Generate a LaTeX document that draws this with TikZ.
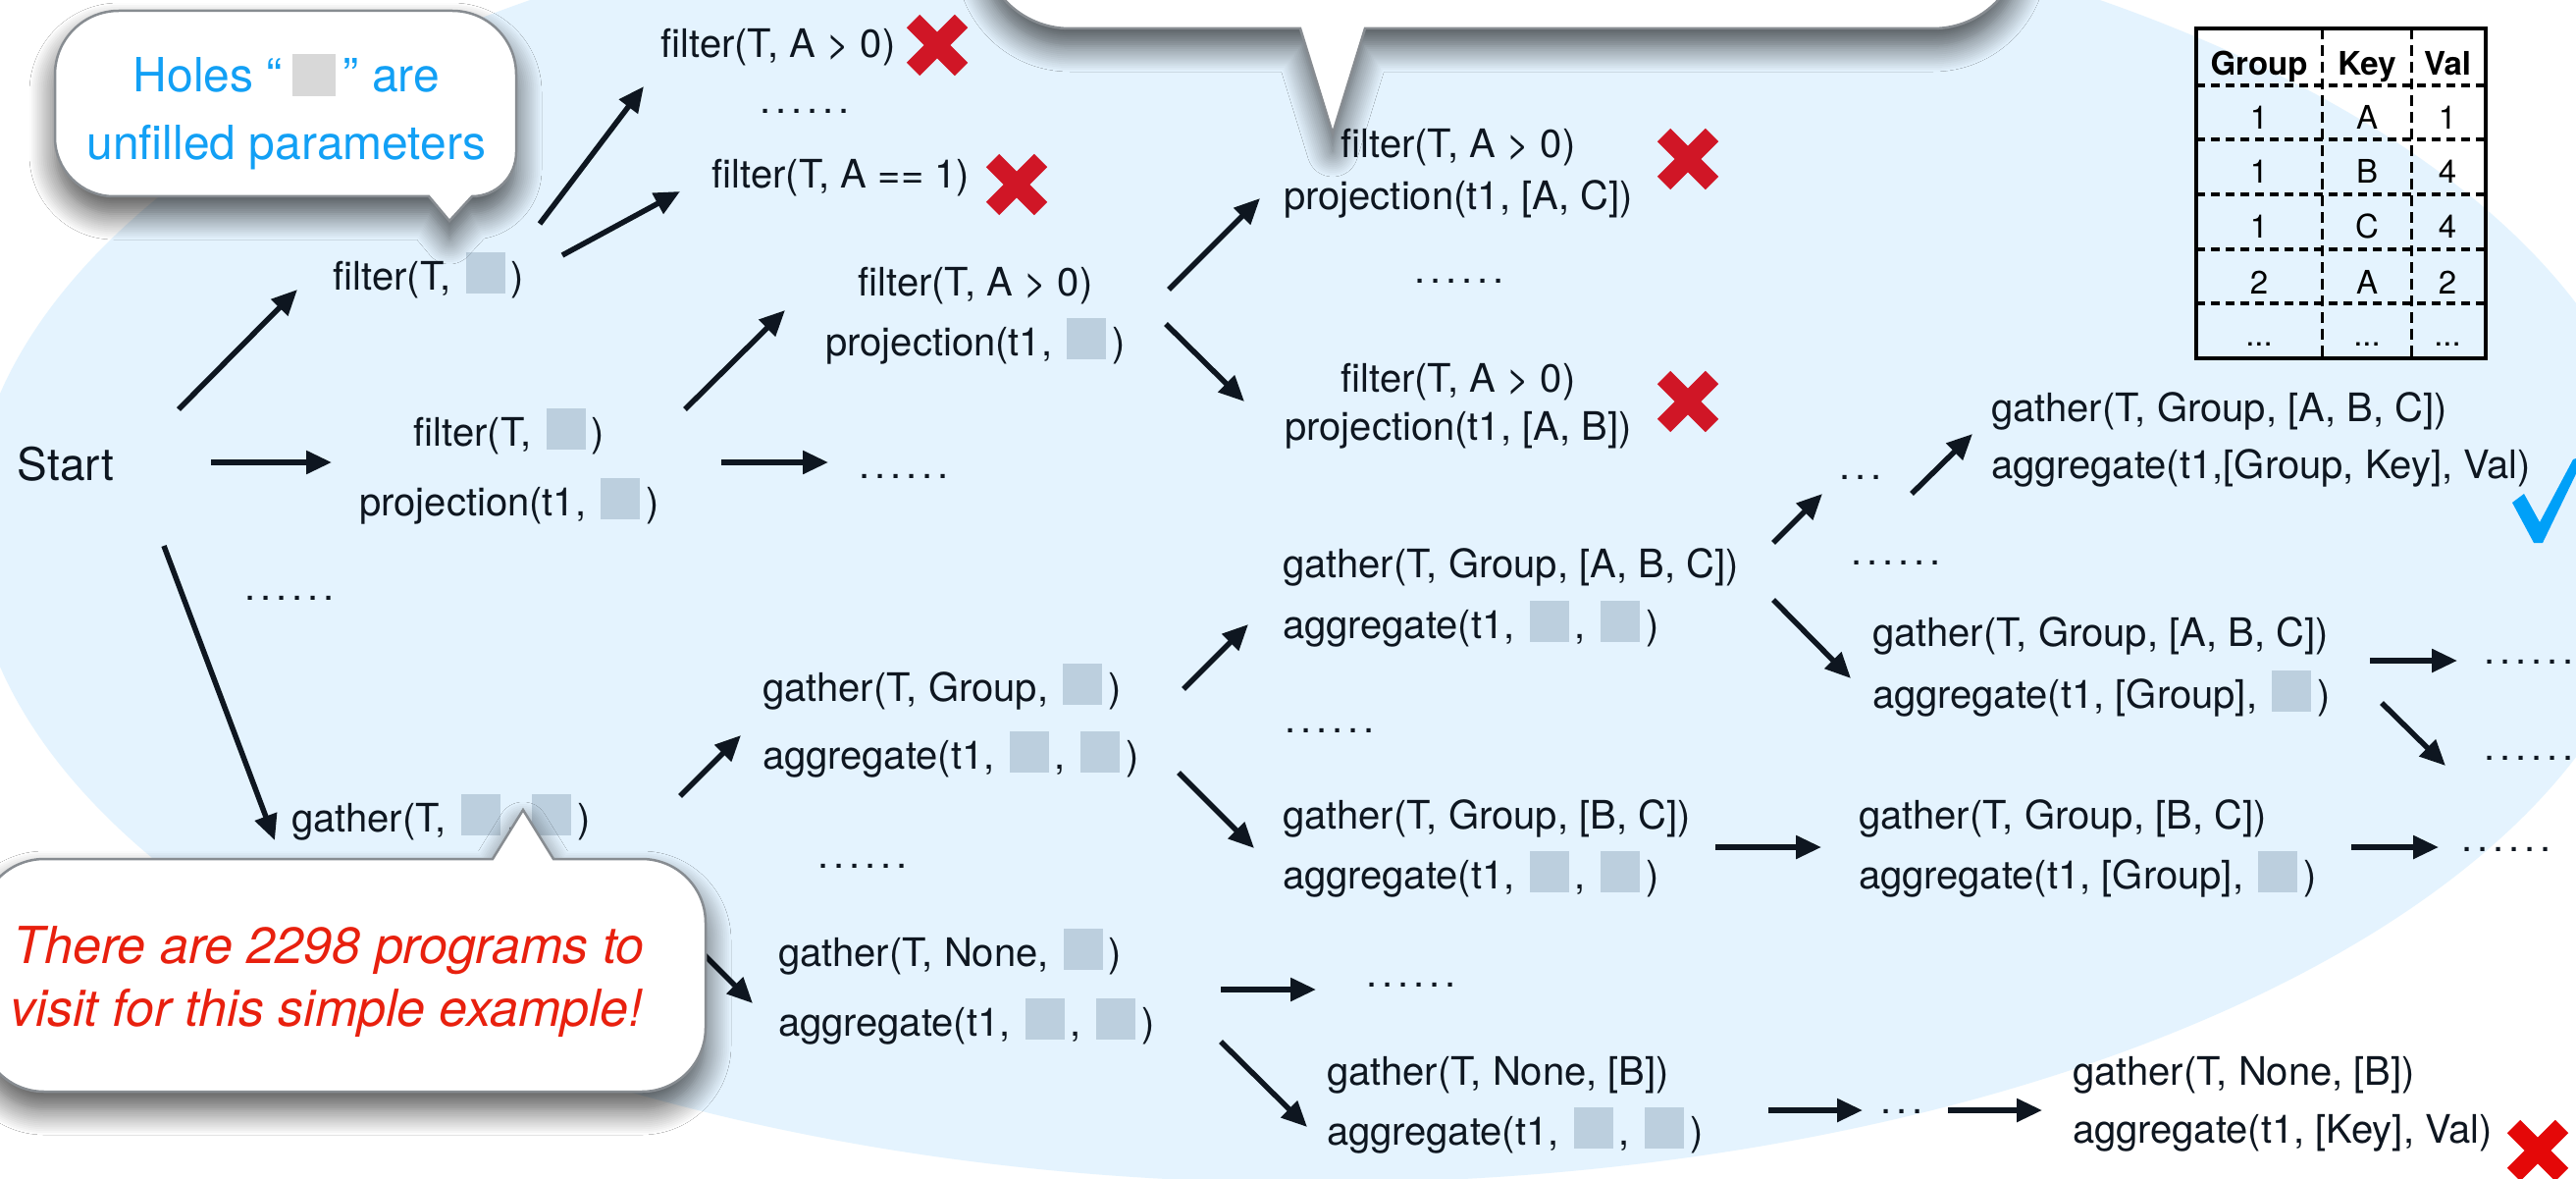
\documentclass[tikz,border=0pt]{standalone}
\usepackage{fontspec}
\setmainfont{TeX Gyre Heros}
\usetikzlibrary{arrows.meta,shadows.blur}

\definecolor{bgblue}{RGB}{228,243,254}
\definecolor{ink}{RGB}{14,22,32}
\definecolor{holec}{RGB}{188,207,222}
\definecolor{holegray}{RGB}{216,216,216}
\definecolor{tipblue}{RGB}{18,160,245}
\definecolor{warnred}{RGB}{232,32,14}
\definecolor{xred}{RGB}{208,22,38}
\definecolor{xredb}{RGB}{228,8,8}
\definecolor{okblue}{RGB}{0,160,248}
\definecolor{rimgray}{RGB}{135,140,145}

% an unfilled parameter slot
\newcommand\hole{\kern4pt\textcolor{holec}{\rule[-4pt]{40pt}{42pt}}\kern6pt}
\newcommand\sixdots{.\kern5pt.\kern5pt.\kern5pt.\kern5pt.\kern5pt.}
\newcommand\threedots{.\kern5pt.\kern5pt.}

\tikzset{
  prog/.style={inner sep=0pt, outer sep=0pt, text=ink, font=\fontsize{40}{48}\selectfont},
  lprog/.style={prog, anchor=base west},
  cprog/.style={prog, anchor=base},
  cell/.style={inner sep=0pt, anchor=base, text=black, font=\fontsize{33}{40}\selectfont},
  arr/.style={draw=ink, line width=5.5pt, -{Triangle[length=26pt,width=23pt]}},
  bubble/.style={fill=white, draw=rimgray, line width=2.5pt,
    blur shadow={shadow xshift=0pt, shadow yshift=-18pt, shadow blur radius=26pt,
                 shadow opacity=70, shadow blur steps=14}},
  redx/.pic={
    \draw[line width=19pt, line cap=butt, pic actions] (-24.5,-24.5) -- (24.5,24.5) (24.5,-24.5) -- (-24.5,24.5);
  }
}

\begin{document}
\begin{tikzpicture}[x=1pt,y=-1pt]
\useasboundingbox (0,0) rectangle (2625,1201);
\clip (0,0) rectangle (2625,1201);
\fill[white] (0,0) rectangle (2625,1201);

% search space
\fill[bgblue] (1340,540) ellipse [x radius=1370, y radius=665];

% example table
\draw[line width=3.5pt] (2238,29) rectangle (2533,365);
\foreach \yy in {87,142,198,254,309}
  \draw[line width=4pt, dash pattern=on 9pt off 6pt] (2238,\yy) -- (2533,\yy);
\foreach \xx in {2366,2457}
  \draw[line width=3pt, dash pattern=on 11pt off 6pt] (\xx,29) -- (\xx,365);
\node[cell, font=\fontsize{33}{40}\selectfont\bfseries] (hg) at (2302,77) {Group};
\node[cell, font=\fontsize{33}{40}\selectfont\bfseries] (hk) at (2412,77) {Key};
\node[cell, font=\fontsize{33}{40}\selectfont\bfseries] (hv) at (2494,77) {Val};
\node[cell] (r1a) at (2302,132) {1}; \node[cell] (r1b) at (2412,132) {A}; \node[cell] (r1c) at (2494,132) {1};
\node[cell] (r2a) at (2302,186) {1}; \node[cell] (r2b) at (2412,186) {B}; \node[cell] (r2c) at (2494,186) {4};
\node[cell] (r3a) at (2302,242) {1}; \node[cell] (r3b) at (2412,242) {C}; \node[cell] (r3c) at (2494,242) {4};
\node[cell] (r4a) at (2302,299) {2}; \node[cell] (r4b) at (2412,299) {A}; \node[cell] (r4c) at (2494,299) {2};
\node[cell] (r5a) at (2302,352) {...}; \node[cell] (r5b) at (2412,352) {...}; \node[cell] (r5c) at (2494,352) {...};

% programs
\node[prog, anchor=base, font=\fontsize{46}{54}\selectfont] (start) at (67,489) {Start};
\node[cprog] (f1)  at (437,295) {filter(T, \hole)};
\node[cprog] (f1a) at (793,59)  {filter(T, A > 0)};
\node[cprog] (f1b) at (857,192) {filter(T, A == 1)};
\node[cprog] (f2a) at (519,454) {filter(T, \hole)};
\node[cprog] (f2b) at (519,525) {projection(t1, \hole)};
\node[cprog] (f3a) at (994,301) {filter(T, A > 0)};
\node[cprog] (f3b) at (994,362) {projection(t1, \hole)};
\node[cprog] (f4a) at (1486,161) {filter(T, A > 0)};
\node[cprog] (f4b) at (1486,213) {projection(t1, [A, C])};
\node[cprog] (f5a) at (1486,399) {filter(T, A > 0)};
\node[cprog] (f5b) at (1486,448) {projection(t1, [A, B])};

\node[lprog] (g1)  at (297,847)  {gather(T, \hole, \hole)};
\node[lprog] (g2a) at (777,714)  {gather(T, Group, \hole)};
\node[lprog] (g2b) at (777,783)  {aggregate(t1, \hole, \hole)};
\node[lprog] (g3a) at (793,984)  {gather(T, None, \hole)};
\node[lprog] (g3b) at (793,1055) {aggregate(t1, \hole, \hole)};
\node[lprog] (g4a) at (1307,588) {gather(T, Group, [A, B, C])};
\node[lprog] (g4b) at (1307,650) {aggregate(t1, \hole, \hole)};
\node[lprog] (g5a) at (1307,844) {gather(T, Group, [B, C])};
\node[lprog] (g5b) at (1307,905) {aggregate(t1, \hole, \hole)};
\node[lprog] (g6a) at (1352,1105) {gather(T, None, [B])};
\node[lprog] (g6b) at (1352,1166) {aggregate(t1, \hole, \hole)};
\node[lprog] (g7a) at (2029,429) {gather(T, Group, [A, B, C])};
\node[lprog] (g7b) at (2029,487) {aggregate(t1,[Group, Key], Val)};
\node[lprog] (g8a) at (1908,658) {gather(T, Group, [A, B, C])};
\node[lprog] (g8b) at (1908,721) {aggregate(t1, [Group], \hole)};
\node[lprog] (g9a) at (1894,844) {gather(T, Group, [B, C])};
\node[lprog] (g9b) at (1894,905) {aggregate(t1, [Group], \hole)};
\node[lprog] (g10a) at (2112,1105) {gather(T, None, [B])};
\node[lprog] (g10b) at (2112,1164) {aggregate(t1, [Key], Val)};

% elided branches
\node[cprog] (d1)  at (820,116)  {\sixdots};
\node[cprog] (d2)  at (921,487)  {\sixdots};
\node[cprog] (d3)  at (1487,288) {\sixdots};
\node[cprog] (d4)  at (295,611)  {\sixdots};
\node[cprog] (d5)  at (879,884)  {\sixdots};
\node[cprog] (d6)  at (1355,746) {\sixdots};
\node[cprog] (d7)  at (1438,1005) {\sixdots};
\node[cprog] (d8)  at (1932,575) {\sixdots};
\node[cprog] (d9)  at (2577,676) {\sixdots};
\node[cprog] (d10) at (2577,774) {\sixdots};
\node[cprog] (d11) at (2554,867) {\sixdots};
\node[cprog] (e1)  at (1896,488) {\threedots};
\node[cprog] (e2)  at (1938,1134) {\threedots};

% search steps
\draw[arr] ([shift={(115,-72)}]start.base) -- ([shift={(-134,0)}]f1.base);
\draw[arr] ([shift={(148,-18)}]start.base) -- ([shift={(-181,17)}]f2a.base);
\draw[arr] ([shift={(100,67)}]start.base) -- ([shift={(-17,9)}]g1.base west);
\draw[arr] ([shift={(113,-67)}]f1.base) -- ([shift={(-137,29)}]f1a.base);
\draw[arr] ([shift={(136,-35)}]f1.base) -- ([shift={(-164,3)}]f1b.base);
\draw[arr] ([shift={(179,-37)}]f2a.base) -- ([shift={(-194,15)}]f3a.base);
\draw[arr] ([shift={(216,17)}]f2a.base) -- ([shift={(-77,-16)}]d2.base);
\draw[arr] ([shift={(197,-6)}]f3a.base) -- ([shift={(-202,-11)}]f4b.base);
\draw[arr] ([shift={(194,29)}]f3a.base) -- ([shift={(-218,10)}]f5a.base);
\draw[arr] ([shift={(396,-36)}]g1.base west) -- ([shift={(-22,35)}]g2a.base west);
\draw[arr] ([shift={(353,58)}]g1.base west) -- ([shift={(-26,38)}]g3a.base west);
\draw[arr] ([shift={(429,-12)}]g2a.base west) -- ([shift={(-35,48)}]g4a.base west);
\draw[arr] ([shift={(424,4)}]g2b.base west) -- ([shift={(-29,20)}]g5a.base west);
\draw[arr] ([shift={(451,24)}]g3a.base west) -- ([shift={(-97,3)}]d7.base);
\draw[arr] ([shift={(451,6)}]g3b.base west) -- ([shift={(-20,-18)}]g6b.base west);
\draw[arr] ([shift={(500,-35)}]g4a.base west) -- ([shift={(-39,15)}]e1.base);
\draw[arr] ([shift={(52,15)}]e1.base) -- ([shift={(-19,13)}]g7a.base west);
\draw[arr] ([shift={(500,23)}]g4a.base west) -- ([shift={(-22,-30)}]g8b.base west);
\draw[arr] ([shift={(507,15)}]g8a.base west) -- ([shift={(-73,-3)}]d9.base);
\draw[arr] ([shift={(519,-5)}]g8b.base west) -- ([shift={(-85,6)}]d10.base);
\draw[arr] ([shift={(441,19)}]g5a.base west) -- ([shift={(-38,19)}]g9a.base west);
\draw[arr] ([shift={(502,19)}]g9a.base west) -- ([shift={(-69,-4)}]d11.base);
\draw[arr] ([shift={(450,26)}]g6a.base west) -- ([shift={(-40,-3)}]e2.base);
\draw[arr] ([shift={(47,-3)}]e2.base) -- ([shift={(-31,26)}]g10a.base west);

% verdicts
\pic[draw=xred] at (955,46) {redx};
\pic[draw=xred] at (1036,188) {redx};
\pic[draw=xred] at (1720,162) {redx};
\pic[draw=xred] at (1720,409) {redx};
\pic[draw=xredb] at (2586,1172) {redx};
\fill[okblue] (2560,512) -- (2572,503) -- (2588,532) -- (2622,468) -- (2634,464)
  -- (2591,553) -- (2582,553) -- cycle;

% callouts
\draw[bubble] (1000,-150) -- (1000,-61) arc[start angle=180, end angle=90, radius=90]
  -- (1325,29) -- (1358,136) -- (1391,29) -- (1970,29)
  arc[start angle=90, end angle=0, radius=90] -- (2060,-150) -- cycle;

\draw[bubble] (121,11) -- (461,11) arc[start angle=270, end angle=360, radius=65]
  -- (526,155) arc[start angle=0, end angle=90, radius=45]
  -- (458,225) -- (437,200) -- (116,200) arc[start angle=90, end angle=180, radius=60]
  -- (56,76) arc[start angle=180, end angle=270, radius=65] -- cycle;
\node[anchor=base, inner sep=0pt, text=tipblue, font=\fontsize{48}{58}\selectfont] (tipa) at (292,94)
  {Holes “\kern10pt\textcolor{holegray}{\rule[-4pt]{44pt}{43pt}}\kern8pt” are};
\node[anchor=base, inner sep=0pt, text=tipblue, font=\fontsize{48}{58}\selectfont] (tipb) at (292,163)
  {unfilled parameters};

\draw[bubble] (45,875) -- (502,875) -- (533,825) -- (564,875) -- (654,875)
  arc[start angle=270, end angle=360, radius=65] -- (719,1047)
  arc[start angle=0, end angle=90, radius=65] -- (45,1112)
  arc[start angle=90, end angle=180, radius=65] -- (-20,940)
  arc[start angle=180, end angle=270, radius=65] -- cycle;
\node[anchor=base, inner sep=0pt, text=warnred, font=\fontsize{52}{62}\selectfont\itshape] (warna) at (335,981)
  {There are 2298 programs to};
\node[anchor=base, inner sep=0pt, text=warnred, font=\fontsize{52}{62}\selectfont\itshape] (warnb) at (333,1045)
  {visit for this simple example!};
\end{tikzpicture}
\end{document}
